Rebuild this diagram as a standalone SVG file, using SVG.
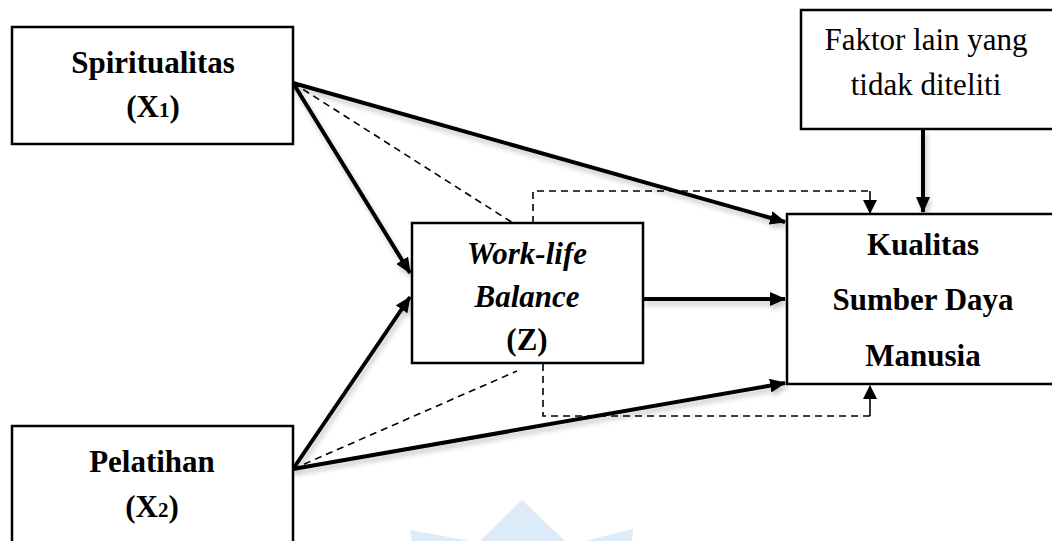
<svg xmlns="http://www.w3.org/2000/svg" width="1052" height="541" viewBox="0 0 1052 541">
<style>
.box{fill:#fff;stroke:#000;stroke-width:2.5}
.b{font-family:"Liberation Serif","Times New Roman",serif;font-weight:bold;font-size:31px;fill:#000;text-anchor:middle}
.r{font-family:"Liberation Serif","Times New Roman",serif;font-size:31px;fill:#000;text-anchor:middle}
.thick{stroke:#000;stroke-width:4;fill:none;filter:url(#sh)}
.dash{stroke:#000;stroke-width:1.6;fill:none;stroke-dasharray:7,5}
.thin{stroke:#000;stroke-width:1.6;fill:none}
.wm{fill:#dcebf7}
</style>
<defs>
<filter id="sh" filterUnits="userSpaceOnUse" x="0" y="0" width="1052" height="541">
<feDropShadow dx="2" dy="4" stdDeviation="2.5" flood-color="#000" flood-opacity="0.22"/>
</filter>
<marker id="ah" viewBox="0 0 16 14" refX="15" refY="7" markerWidth="16" markerHeight="14" markerUnits="userSpaceOnUse" orient="auto">
<path d="M0,0 L16,7 L0,14 Z" fill="#000"/>
</marker>
<marker id="ahs" viewBox="0 0 14 14" refX="13" refY="7" markerWidth="14" markerHeight="14" markerUnits="userSpaceOnUse" orient="auto">
<path d="M0,0 L14,7 L0,14 Z" fill="#000"/>
</marker>
</defs>
<rect width="1052" height="541" fill="#fff"/>
<g id="watermark">
<polygon class="wm" points="522,500 480,541 565,541"/>
<polygon class="wm" points="410,530 470,541 412,541"/>
<polygon class="wm" points="633,529 632,541 585,541"/>
</g>
<g id="connectors">
<line class="thick" x1="293" y1="83" x2="785" y2="222" marker-end="url(#ah)"/>
<line class="thick" x1="293" y1="83" x2="410" y2="273" marker-end="url(#ah)"/>
<line class="dash" x1="293" y1="83" x2="513" y2="223"/>
<line class="thick" x1="293" y1="469" x2="410" y2="297" marker-end="url(#ah)"/>
<line class="dash" x1="293" y1="469" x2="517" y2="371"/>
<line class="thick" x1="293" y1="469" x2="785" y2="383" marker-end="url(#ah)"/>
<line class="thick" x1="643" y1="299" x2="785" y2="299" marker-end="url(#ah)"/>
<line class="thick" x1="923" y1="129" x2="923" y2="212" marker-end="url(#ah)"/>
<polyline class="dash" points="533,223 533,191 870,191"/>
<line class="thin" x1="870" y1="191" x2="870" y2="213" marker-end="url(#ahs)"/>
<polyline class="dash" points="543,364 543,416 870,416"/>
<line class="thin" x1="870" y1="416" x2="870" y2="386" marker-end="url(#ahs)"/>
</g>
<g id="spiritualitas">
<rect class="box" x="12" y="27" width="281" height="117"/>
<text class="b" x="153" y="73">Spiritualitas</text>
<text class="b" x="153" y="117">(X<tspan font-size="21">1</tspan>)</text>
</g>
<g id="pelatihan">
<rect class="box" x="12" y="426" width="281" height="130"/>
<text class="b" x="152" y="472">Pelatihan</text>
<text class="b" x="152" y="517">(X<tspan font-size="21">2</tspan>)</text>
</g>
<g id="wlb">
<rect class="box" x="412" y="223" width="231" height="140"/>
<text class="b" x="527" y="264" font-style="italic">Work-life</text>
<text class="b" x="527" y="307" font-style="italic">Balance</text>
<text class="b" x="527" y="350">(Z)</text>
</g>
<g id="kualitas">
<rect class="box" x="787" y="214" width="280" height="170"/>
<text class="b" x="923" y="255">Kualitas</text>
<text class="b" x="923" y="310">Sumber Daya</text>
<text class="b" x="923" y="366">Manusia</text>
</g>
<g id="faktor">
<rect class="box" x="801" y="10" width="270" height="119"/>
<text class="r" x="926" y="50">Faktor lain yang</text>
<text class="r" x="926" y="95">tidak diteliti</text>
</g>
</svg>
